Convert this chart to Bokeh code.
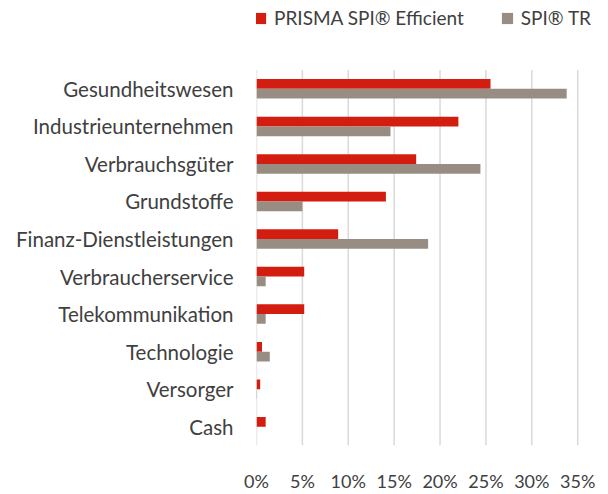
from bokeh.plotting import figure
from bokeh.models import ColumnDataSource, Range1d, Legend, LegendItem, FixedTicker, NumeralTickFormatter
from bokeh.embed import file_html
from bokeh.resources import INLINE

categories = ["Gesundheitswesen", "Industrieunternehmen", "Verbrauchsgüter", "Grundstoffe",
              "Finanz-Dienstleistungen", "Verbraucherservice", "Telekommunikation",
              "Technologie", "Versorger", "Cash"]
prisma = [0.255, 0.220, 0.174, 0.141, 0.089, 0.052, 0.052, 0.006, 0.004, 0.010]
spi_tr = [0.338, 0.146, 0.244, 0.050, 0.187, 0.010, 0.010, 0.0145, 0.0005, 0.0]
series_names = ["PRISMA SPI® Efficient", "SPI® TR"]
x_ticks = [0, 0.05, 0.10, 0.15, 0.20, 0.25, 0.30, 0.35]

RED = "#D31D10"
GREY = "#988D83"
TXT = "#404040"
FONT = "Lato"

n = len(categories)
pos = [n - 1 - i for i in range(n)]  # top category first
BAR_H = 0.26

src = ColumnDataSource(dict(
    pos=pos,
    ya=[v + BAR_H / 2 for v in pos],
    yb=[v - BAR_H / 2 for v in pos],
    a=prisma, b=spi_tr))

W, H = 606, 494
FL, FR, FB = 256, 0, 40
frame_h = H - FB
frame_w = W - FL - FR
unit = 38.3
px_per_x = 321.2 / 0.35
p = figure(width=W, height=H, output_backend="svg", toolbar_location=None,
           x_range=Range1d(0, frame_w / px_per_x),
           y_range=Range1d(-0.5, -0.5 + frame_h / unit),
           min_border_left=FL, min_border_right=FR, min_border_top=0, min_border_bottom=FB)
p.outline_line_color = None
p.background_fill_color = "white"
p.border_fill_color = "white"

# vertical gridlines only over the category area
p.xgrid.grid_line_color = None
p.ygrid.grid_line_color = None
p.segment(x0=x_ticks, x1=x_ticks, y0=[-0.5] * len(x_ticks), y1=[n - 0.5] * len(x_ticks),
          line_color="#D9D9D9", line_width=1.5)

r1 = p.hbar(y="ya", right="a", left=0, height=BAR_H, source=src, fill_color=RED, line_color=None)
r2 = p.hbar(y="yb", right="b", left=0, height=BAR_H, source=src, fill_color=GREY, line_color=None)

p.xaxis.ticker = FixedTicker(ticks=x_ticks)
p.xaxis.formatter = NumeralTickFormatter(format="0%")
p.yaxis.ticker = FixedTicker(ticks=pos)
p.yaxis.major_label_overrides = {v: c for v, c in zip(pos, categories)}

for ax in (p.xaxis, p.yaxis):
    ax.axis_line_color = None
    ax.major_tick_line_color = None
    ax.minor_tick_line_color = None
    ax.major_tick_in = 0
    ax.major_tick_out = 0
    ax.minor_tick_out = 0
    ax.major_label_text_font = FONT
    ax.major_label_text_color = TXT
p.yaxis.major_label_text_font_size = "20.5px"
p.xaxis.major_label_text_font_size = "18px"
p.yaxis.major_label_standoff = 23
p.xaxis.major_label_standoff = 24

legend = Legend(items=[LegendItem(label=series_names[0], renderers=[r1]),
                       LegendItem(label=series_names[1], renderers=[r2])],
                location=(-3, frame_h - 38), orientation="horizontal",
                glyph_width=14, glyph_height=14, label_standoff=7, spacing=36,
                padding=0, margin=0, border_line_color=None, background_fill_alpha=0,
                label_text_font=FONT, label_text_font_size="19px", label_text_color=TXT,
                label_height=14)
p.add_layout(legend, "center")

open("out.html", "w").write(file_html(p, INLINE))
